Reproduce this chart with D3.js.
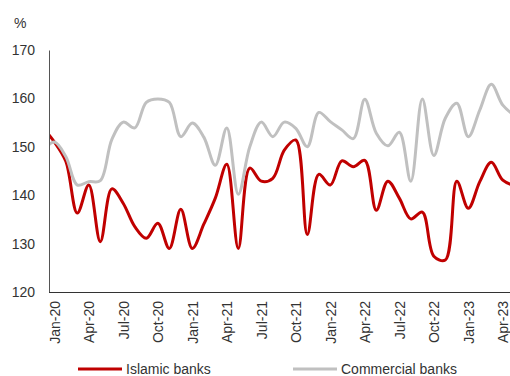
<!DOCTYPE html>
<html>
<head>
<meta charset="utf-8">
<script src="https://cdn.jsdelivr.net/npm/d3@7"></script>
<style>
  body { margin: 0; background: #fff; }
  svg text { font-family: "Liberation Sans", Arial, sans-serif; fill: #333; }
</style>
</head>
<body>
<div id="chart"></div>
<script>
// months Dec-19 .. May-23 (first and last fall outside the plot and are clipped)
var months = ["Dec-19",
  "Jan-20","Feb-20","Mar-20","Apr-20","May-20","Jun-20","Jul-20","Aug-20","Sep-20","Oct-20","Nov-20","Dec-20",
  "Jan-21","Feb-21","Mar-21","Apr-21","May-21","Jun-21","Jul-21","Aug-21","Sep-21","Oct-21","Nov-21","Dec-21",
  "Jan-22","Feb-22","Mar-22","Apr-22","May-22","Jun-22","Jul-22","Aug-22","Sep-22","Oct-22","Nov-22","Dec-22",
  "Jan-23","Feb-23","Mar-23","Apr-23","May-23"];

var islamic = [154,
  151, 147, 136.3, 142.1, 130.4, 141.3, 138.3, 133.5, 131.1, 134.2, 129, 137.1,
  129, 134, 139.4, 146.4, 129, 145.6, 142.9, 143.5, 149.3, 151.4, 131.9, 144.3,
  142.1, 147.1, 145.9, 147.2, 136.9, 142.9, 139.4, 135.1, 136.5, 127.4, 126.6, 142.9,
  137.3, 142.8, 146.8, 143.1, 142];

var commercial = [149,
  151, 148, 142.1, 142.8, 143, 151.5, 155.1, 153.9, 159.2, 159.9, 159.2, 152.1,
  154.9, 152, 146.2, 153.9, 140.2, 150, 155.1, 152.1, 155.1, 153.8, 150, 157.1,
  155.2, 153.5, 151.7, 159.8, 152.8, 150.2, 153, 142.9, 159.9, 148.2, 155.9, 159,
  152.1, 157.6, 162.9, 158.6, 156.5];

var yTicks = [120, 130, 140, 150, 160, 170];
var xTickLabels = ["Jan-20","Apr-20","Jul-20","Oct-20","Jan-21","Apr-21","Jul-21","Oct-21",
  "Jan-22","Apr-22","Jul-22","Oct-22","Jan-23","Apr-23"];

var series = [
  { name: "Islamic banks", values: islamic, color: "#c00000" },
  { name: "Commercial banks", values: commercial, color: "#c0c0c0" }
];

var W = 510, H = 376;
var plot = { left: 49, right: 510, top: 50, bottom: 292 };

var svg = d3.select("#chart").append("svg")
  .attr("width", W).attr("height", H);

// index 0 = Dec-19, Jan-20 sits half a step right of the axis
var x = d3.scaleLinear().domain([1, 40]).range([54.3, 502.8]);
var y = d3.scaleLinear().domain([120, 170]).range([plot.bottom, plot.top]);

svg.append("clipPath").attr("id", "clip")
  .append("rect")
  .attr("x", plot.left).attr("y", 0)
  .attr("width", plot.right - plot.left).attr("height", plot.bottom);

var line = d3.line()
  .x(function (d, i) { return x(i); })
  .y(function (d) { return y(d); })
  .curve(d3.curveCatmullRom.alpha(0.5));

svg.append("g").attr("clip-path", "url(#clip)")
  .selectAll("path")
  .data(series)
  .enter()
  .append("path")
  .attr("d", function (d) { return line(d.values); })
  .attr("fill", "none")
  .attr("stroke", function (d) { return d.color; })
  .attr("stroke-width", 3)
  .attr("stroke-linejoin", "round");

// axes
var yAxis = svg.append("g")
  .attr("transform", "translate(" + plot.left + ",0)")
  .call(d3.axisLeft(y).tickValues(yTicks).tickSize(0).tickPadding(14));
yAxis.select(".domain").attr("stroke", "#555");
yAxis.selectAll("text").style("font-size", "14px").attr("fill", "#333");

var xAxis = svg.append("g")
  .attr("transform", "translate(0," + plot.bottom + ")")
  .call(d3.axisBottom(x)
    .tickValues(xTickLabels.map(function (m) { return months.indexOf(m); }))
    .tickFormat(function (i) { return months[i]; })
    .tickSize(0));
xAxis.select(".domain").attr("d", "M" + plot.left + ",0.5H" + plot.right).attr("stroke", "#333");
xAxis.selectAll("text")
  .style("font-size", "14px")
  .attr("fill", "#333")
  .attr("text-anchor", "end")
  .attr("transform", "rotate(-90)")
  .attr("x", -9)
  .attr("y", 0)
  .attr("dy", "0.35em");

svg.append("text")
  .attr("x", 14).attr("y", 28)
  .style("font-size", "14px")
  .text("%");

// legend
var legend = svg.append("g").selectAll("g")
  .data(series)
  .enter()
  .append("g")
  .attr("transform", function (d, i) { return "translate(" + (78 + i * 215) + ",369)"; });

legend.append("line")
  .attr("x1", 0).attr("x2", 44)
  .attr("stroke", function (d) { return d.color; })
  .attr("stroke-width", 3);

legend.append("text")
  .attr("x", 48).attr("dy", "0.35em")
  .style("font-size", "14px")
  .text(function (d) { return d.name; });
</script>
</body>
</html>
